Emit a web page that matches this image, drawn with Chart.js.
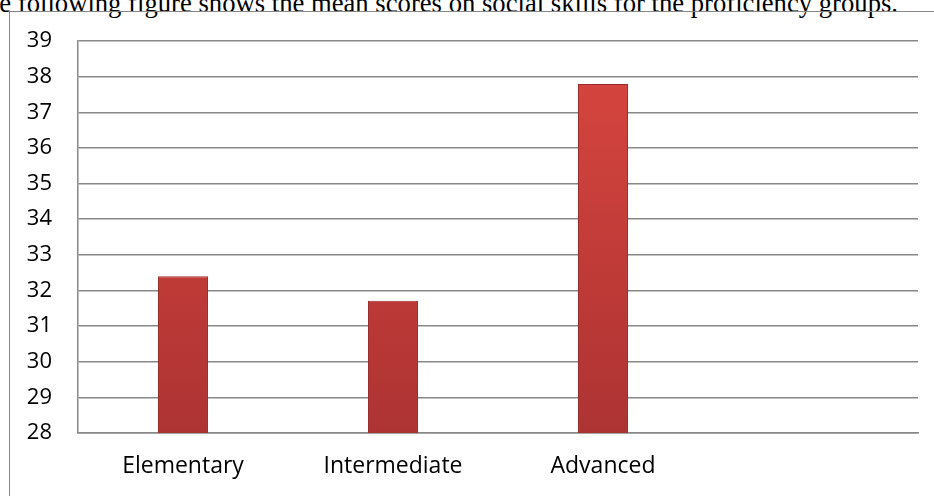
<!DOCTYPE html>
<html>
<head>
<meta charset="utf-8">
<script src="https://cdn.jsdelivr.net/npm/chart.js@4/dist/chart.umd.min.js"></script>
<style>
  body { margin: 0; background: #fff; overflow: hidden; }
  #wrap { position: relative; width: 934px; height: 496px; overflow: hidden; }
  #caption {
    position: absolute; right: 36px; top: -12px;
    font-family: "Liberation Serif", "Times New Roman", serif;
    font-size: 26.67px; line-height: 30px; white-space: nowrap; color: #000;
  }
  #frame {
    position: absolute; left: 9px; top: 11px; width: 1000px; height: 600px;
    border: 1.5px solid #888; box-sizing: border-box;
  }
  canvas { position: absolute; left: 0; top: 0; }
</style>
</head>
<body>
<div id="wrap">
  <div id="caption">The following figure shows the mean scores on social skills for the proficiency groups.</div>
  <div id="frame"></div>
  <canvas id="chart" width="934" height="496"></canvas>
</div>
<script>
const groups = ['Elementary', 'Intermediate', 'Advanced', ''];
const meanScores = [32.4, 31.71, 37.79, null];
const yMin = 28;
const yMax = 39;

const ctx = document.getElementById('chart');

function barFill(context) {
    const area = context.chart.chartArea;
    if (!area) return '#c83c3a';
    const g = context.chart.ctx.createLinearGradient(0, area.top, 0, area.bottom);
    g.addColorStop(0, '#d9463f');
    g.addColorStop(1, '#ad3333');
    return g;
}

new Chart(ctx, {
    type: 'bar',
    data: {
        labels: groups,
        datasets: [{
            label: 'Mean score',
            data: meanScores,
            backgroundColor: barFill,
            borderColor: '#9c2c2c',
            borderWidth: 1,
            barPercentage: 0.476,
            categoryPercentage: 0.5
        }]
    },
    options: {
        responsive: false,
        animation: false,
        devicePixelRatio: 1,
        layout: { padding: { left: 0, top: 41, right: 16, bottom: 0 } },
        plugins: { legend: { display: false }, tooltip: { enabled: false } },
        scales: {
            y: {
                min: yMin,
                max: yMax,
                ticks: {
                    stepSize: 1,
                    padding: 26,
                    color: '#000',
                    font: { family: 'Open Sans', size: 22 }
                },
                grid: { color: '#888', lineWidth: 1.5, drawTicks: false },
                border: { color: '#888', width: 1.5 },
                afterFit: function (scale) { scale.width = 78; }
            },
            x: {
                ticks: {
                    padding: 20,
                    color: '#000',
                    font: { family: 'Open Sans', size: 23 }
                },
                grid: { display: false, drawTicks: false },
                border: { color: '#888', width: 1.5 },
                afterFit: function (scale) { scale.height = 63; }
            }
        }
    }
});
</script>
</body>
</html>
